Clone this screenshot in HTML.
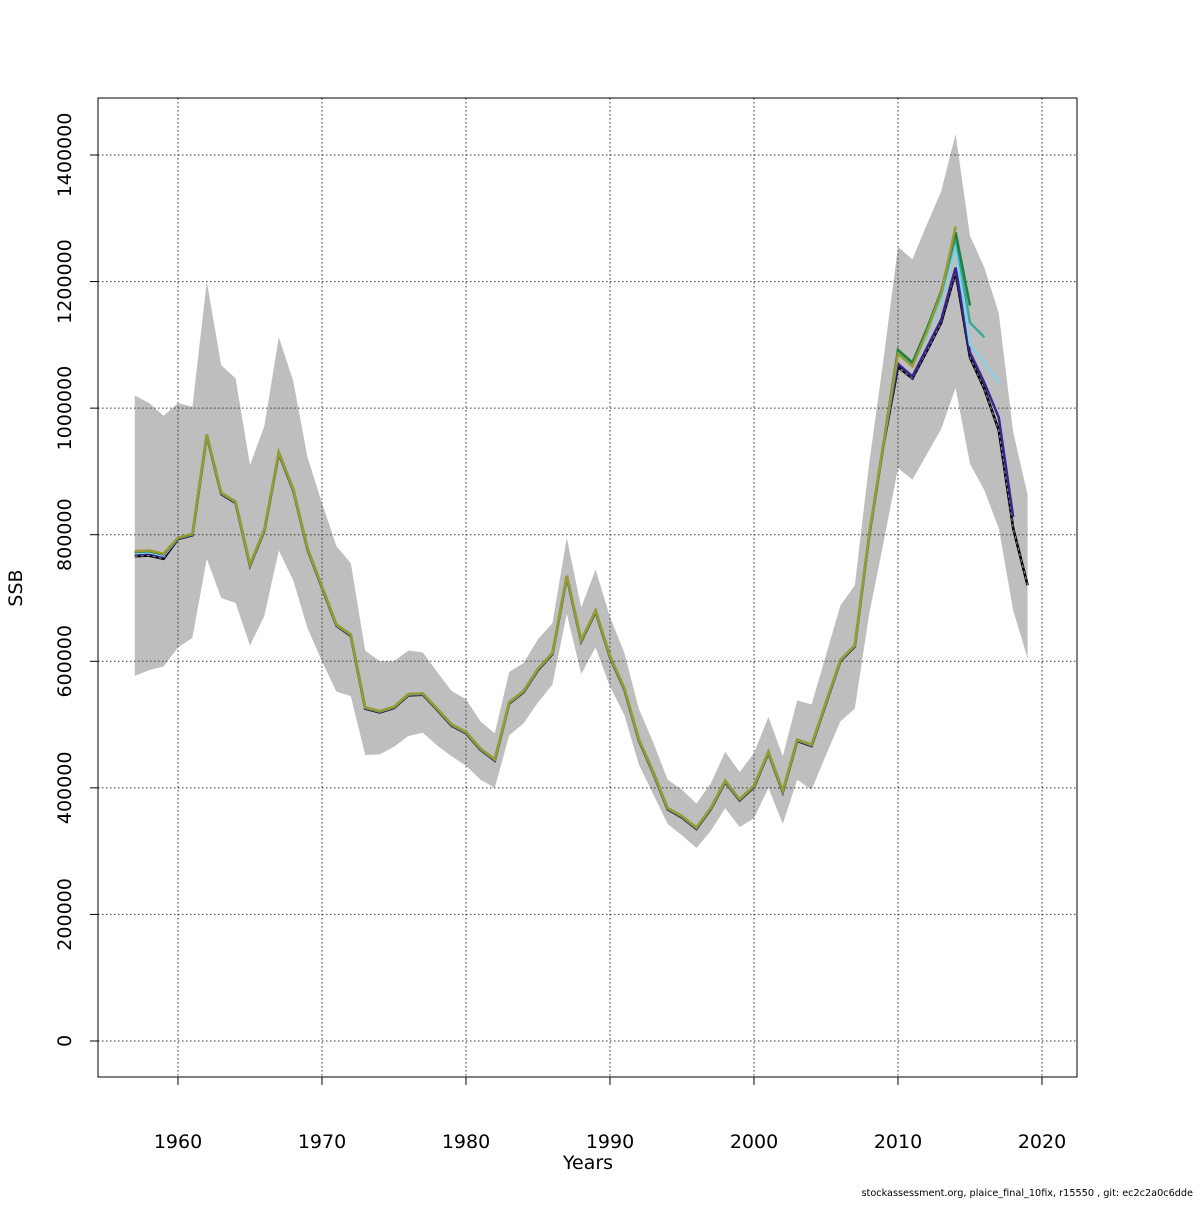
<!DOCTYPE html>
<html><head><meta charset="utf-8"><style>
body{margin:0;background:#fff}
svg text{font-family:"DejaVu Sans","Liberation Sans",sans-serif;fill:#000}
</style></head><body>
<svg id="chart" width="1200" height="1200" xmlns="http://www.w3.org/2000/svg">
<rect width="1200" height="1200" fill="#fff"/>
<g id="band"></g>
<g id="grid"></g>
<g id="lines"></g>
<rect x="98" y="98" width="979" height="979" fill="none" stroke="#000" stroke-width="1"/>
<g id="axes"></g>
<text x="588" y="1169" font-size="19" text-anchor="middle">Years</text>
<text transform="translate(22,588) rotate(-90)" font-size="19" text-anchor="middle">SSB</text>
<text x="1193" y="1196" font-size="9.7" text-anchor="end">stockassessment.org, plaice_final_10fix, r15550 , git: ec2c2a0c6dde</text>
</svg>
<script>
const years=[];for(let y=1957;y<=2019;y++)years.push(y);
const baseSSB=[773,774,769,795,801,958,866,852,753,808,930,872,778,718,658,642,527,521,528,548,549,525,500,488,462,445,535,553,588,613,735,633,680,608,557,477,425,368,355,337,368,411,382,403,457,395,476,468,535,602,625,800,945];
const upperSSB=[1020,1008,988,1008,1002,1200,1068,1047,910,972,1112,1043,922,850,782,755,617,600,600,617,614,583,553,540,505,486,583,597,635,660,795,685,745,670,613,525,472,413,397,375,407,457,425,455,512,450,538,532,610,688,720,913,1078,1255,1235,1290,1343,1433,1272,1222,1150,962,863];
const lowerSSB=[577,586,592,622,637,762,700,692,625,672,775,728,652,600,552,545,452,453,465,482,487,467,450,435,413,400,483,502,535,563,675,580,622,560,515,437,390,343,325,305,332,368,338,352,400,343,413,397,452,505,525,675,788,905,887,927,967,1032,912,870,810,680,605];
const tailOlive=[1086,1066,1120,1182,1287];
const tailGreen=[1092,1072,1125,1185,1278,1162];
const tailTeal=[1090,1070,1122,1180,1270,1135,1112];
const tailLightBlue=[1085,1066,1115,1170,1255,1100,1072,1040];
const tailPurple=[1070,1050,1095,1140,1222,1088,1040,985,828];
const tailBlack=[1065,1047,1090,1135,1215,1080,1030,965,810,720];
const xTicks=[1960,1970,1980,1990,2000,2010,2020];
const yTicks=[0,200000,400000,600000,800000,1000000,1200000,1400000];
const NS='http://www.w3.org/2000/svg';
const X=y=>178+(y-1960)*14.4;
const Y=v=>1041-v*1000*0.00063286;
function mk(t,p,parent){const e=document.createElementNS(NS,t);for(const k in p)e.setAttribute(k,p[k]);parent.appendChild(e);return e;}
const band=document.getElementById('band'),grid=document.getElementById('grid'),lines=document.getElementById('lines'),axes=document.getElementById('axes');
let pts=years.map((y,i)=>X(y)+','+Y(upperSSB[i])).concat(years.map((y,i)=>X(y)+','+Y(lowerSSB[i])).reverse());
const poly=mk('polygon',{points:pts.join(' '),fill:'#bebebe',stroke:'none'},band);


xTicks.forEach(t=>{const l=mk('line',{x1:X(t),x2:X(t),y1:98,y2:1077,stroke:'#333','stroke-dasharray':'1.5,2.5','stroke-width':1},grid);


mk('line',{x1:X(t),x2:X(t),y1:1077,y2:1085,stroke:'#000'},axes);
const tx=mk('text',{x:X(t),y:1148,'font-size':19,'text-anchor':'middle'},axes);tx.textContent=t;

});
yTicks.forEach(t=>{const y=Y(t/1000);const l=mk('line',{x1:98,x2:1077,y1:y,y2:y,stroke:'#333','stroke-dasharray':'1.5,2.5','stroke-width':1},grid);


mk('line',{x1:90,x2:98,y1:y,y2:y,stroke:'#000'},axes);
const tx=mk('text',{transform:`translate(71,${y}) rotate(-90)`,'font-size':19,'text-anchor':'middle'},axes);tx.textContent=t;

});
function series(tail,color,name,dash,off){
 const vals=baseSSB.map((v,i)=>v+(i<3?off:off/4)).concat(tail);
 const p=vals.map((v,i)=>X(years[i])+','+Y(v)).join(' ');
 if(dash){mk('polyline',{points:p,fill:'none',stroke:'#000','stroke-width':2.6},lines);
  const l=mk('polyline',{points:p,fill:'none',stroke:'#999','stroke-width':1,'stroke-dasharray':'3,3'},lines);
  
  return;}
 const l=mk('polyline',{points:p,fill:'none',stroke:color,'stroke-width':2.5},lines);
 
 
}
series(tailBlack,'#000','series-final',true,-7);
series(tailPurple,'#3a2590','series-peel-2018',false,-4);
series(tailLightBlue,'#87ceeb','series-peel-2017',false,-2);
series(tailTeal,'#3aaa96','series-peel-2016',false,0);
series(tailGreen,'#1e8040','series-peel-2015',false,0);
series(tailOlive,'#9a9a30','series-peel-2014',false,1);
</script>
</body></html>
